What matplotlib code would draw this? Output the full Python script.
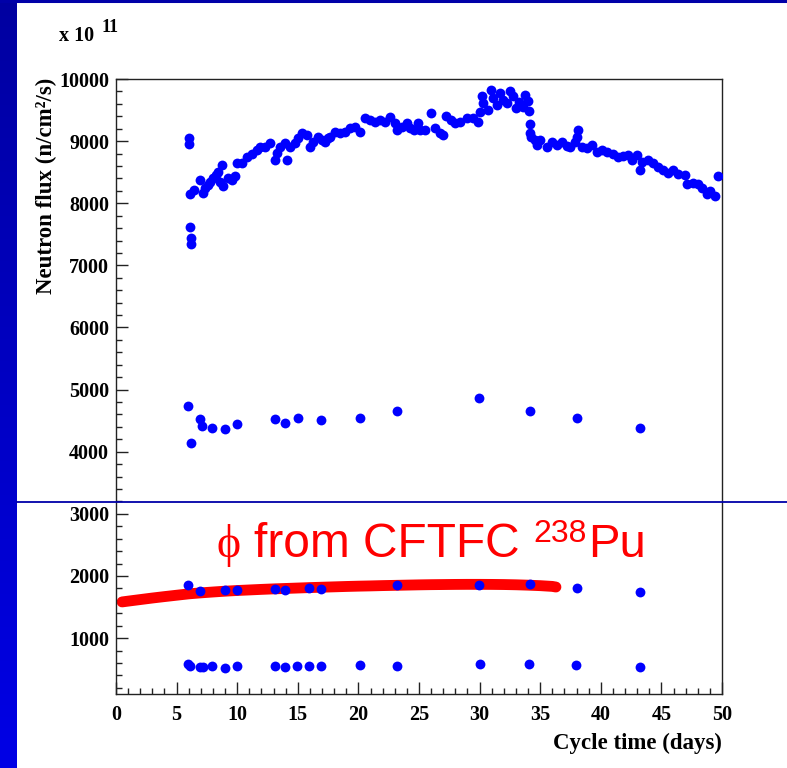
import numpy as np
import matplotlib
matplotlib.use("Agg")
import matplotlib.pyplot as plt
from matplotlib.ticker import MultipleLocator

# ---- data (flux in units of 1e11 n/cm^2/s, time in days) ----
main_days = [6.02, 6.05, 6.11, 6.44, 6.93, 7.20, 7.34, 7.62, 7.76, 8.03, 8.25, 8.44,
             8.58, 8.72, 8.85, 9.27, 9.55, 9.82, 10.01, 10.37, 10.78, 11.20, 11.61,
             11.88, 12.29, 12.71, 13.12, 13.26, 13.53, 13.94, 14.08, 14.36, 14.77,
             15.04, 15.32, 15.73, 16.01, 16.28, 16.69, 16.97, 17.24, 17.52, 17.66,
             18.07, 18.48, 18.89, 19.31, 19.72, 20.13, 20.54, 20.96, 21.37, 21.78,
             22.19, 22.61, 23.02, 23.21, 23.57, 24.03, 24.26, 24.59, 24.94, 25.08,
             25.50, 25.99, 26.32, 26.73, 27.00, 27.23, 27.62, 27.97, 28.38, 28.94,
             29.48, 29.89, 30.03, 30.17, 30.31, 30.72, 30.92, 31.13, 31.46, 31.68,
             31.96, 32.24, 32.51, 32.78, 33.00, 33.28, 33.56, 33.75, 34.02, 34.08,
             34.16, 34.18, 34.21, 34.57, 34.76, 34.98, 35.53, 35.94, 36.36, 36.77,
             37.18, 37.46, 37.87, 38.01, 38.14, 38.42, 38.83, 39.24, 39.66, 40.07,
             40.49, 41.03, 41.44, 41.86, 42.27, 42.55, 43.01, 43.23, 43.37, 43.92,
             44.33, 44.74, 45.16, 45.57, 45.98, 46.39, 46.95, 47.08, 47.63, 48.04,
             48.32, 48.74, 49.01, 49.42, 49.70,
             6.12, 6.17, 6.21]
main_flux = [9050, 8950, 8150, 8220, 8370, 8160, 8240, 8300, 8350, 8400, 8460, 8510,
             8350, 8620, 8270, 8400, 8380, 8440, 8640, 8640, 8750, 8790, 8860,
             8910, 8910, 8970, 8700, 8810, 8910, 8970, 8700, 8910, 8970,
             9050, 9130, 9100, 8910, 8990, 9070, 9020, 8990, 9050, 9070,
             9150, 9130, 9150, 9210, 9230, 9150, 9370, 9340, 9310, 9340,
             9310, 9390, 9290, 9180, 9230, 9290, 9210, 9180, 9290, 9180,
             9180, 9460, 9210, 9130, 9100, 9400, 9340, 9290, 9310, 9370,
             9370, 9310, 9470, 9720, 9610, 9500, 9820, 9690, 9580, 9770,
             9660, 9610, 9800, 9720, 9540, 9630, 9550, 9740, 9650, 9490,
             9270, 9130, 9070, 9020, 8940, 9020, 8910, 8980, 8940, 8980,
             8920, 8910, 8990, 9070, 9180, 8910, 8890, 8940, 8830, 8860,
             8820, 8800, 8740, 8760, 8780, 8700, 8780, 8540, 8670, 8700,
             8640, 8590, 8540, 8490, 8540, 8470, 8460, 8310, 8320, 8310,
             8240, 8150, 8200, 8110, 8440,
             7620, 7440, 7350]

low_days = [5.98, 6.15, 6.90, 7.13, 7.94, 8.98, 9.96, 13.13, 13.94, 14.98, 16.93,
            20.13, 23.16, 29.97, 34.15, 38.00, 43.20]
low_flux = [4740, 4140, 4530, 4410, 4380, 4370, 4450, 4530, 4460, 4540, 4510,
            4550, 4650, 4860, 4650, 4550, 4380]

mid_days = [5.98, 6.90, 8.98, 9.96, 13.13, 13.94, 15.96, 16.93, 23.16, 29.97,
            34.15, 38.00, 43.20]
mid_flux = [1850, 1760, 1780, 1770, 1790, 1780, 1810, 1790, 1850, 1860,
            1870, 1800, 1750]

base_days = [5.92, 6.10, 6.93, 7.17, 7.94, 9.02, 10.00, 13.13, 13.94, 14.94, 15.92,
             16.93, 20.13, 23.16, 30.00, 34.07, 37.97, 43.20]
base_flux = [590, 550, 540, 530, 545, 525, 550, 545, 540, 555, 545,
             550, 570, 550, 575, 575, 560, 535]

cftfc_days = [0.5, 1, 2, 3, 4, 5, 6, 7, 8, 9, 10, 11, 12, 13, 14, 15, 16, 17, 18,
              19, 20, 21, 22, 23, 24, 25, 26, 27, 28, 29, 30, 31, 32, 33, 34, 35,
              36, 36.3]
cftfc_flux = [1582, 1595, 1620, 1645, 1668, 1690, 1712, 1728, 1742, 1755, 1766,
              1775, 1784, 1792, 1799, 1806, 1813, 1819, 1825, 1831, 1836, 1840,
              1845, 1849, 1853, 1857, 1860, 1862, 1864, 1865, 1865, 1864, 1862,
              1858, 1852, 1844, 1832, 1822]

x_ticks = [0, 5, 10, 15, 20, 25, 30, 35, 40, 45, 50]
y_ticks = [1000, 2000, 3000, 4000, 5000, 6000, 7000, 8000, 9000, 10000]

W, H = 787, 768
def fx(px):
    return px / W
def fy(py):
    return 1 - py / H

fig = plt.figure(figsize=(W / 100, H / 100), dpi=100)
fig.patch.set_facecolor("white")

# slide decoration: left gradient bar and top rule
bar = fig.add_axes([0, 0, fx(17), 1])
grad = np.linspace(0, 1, 256).reshape(-1, 1)
bar.imshow(np.dstack([np.zeros_like(grad), np.zeros_like(grad), 0.63 + 0.27 * grad]),
           aspect="auto", extent=[0, 1, 0, 1], origin="upper")
bar.axis("off")
fig.add_artist(plt.Line2D([0, 1], [fy(1), fy(1)], color="#0000a8", lw=2.2,
                          transform=fig.transFigure))

ax = fig.add_axes([fx(116), fy(694), fx(722) - fx(116), fy(79) - fy(694)])
ax.set_xlim(0, 50)
ax.set_ylim(100, 10000)

ax.plot(cftfc_days, cftfc_flux, color="#ff0000", lw=7.8, solid_capstyle="round",
        zorder=2)
ms = 50
ax.scatter(main_days, main_flux, s=ms, color="#0000ff", lw=0, zorder=3)
ax.scatter(low_days, low_flux, s=ms, color="#0000ff", lw=0, zorder=3)
ax.scatter(mid_days, mid_flux, s=ms, color="#0000ff", lw=0, zorder=3)
ax.scatter(base_days, base_flux, s=ms, color="#0000ff", lw=0, zorder=3)

ax.set_xticks(x_ticks)
ax.set_yticks(y_ticks)
ax.xaxis.set_minor_locator(MultipleLocator(1))
ax.yaxis.set_minor_locator(MultipleLocator(200))
ax.tick_params(which="both", direction="in", top=False, right=False, width=1,
               color="#222222")
ax.tick_params(which="major", length=8.5)
ax.tick_params(which="minor", length=4.3)
ax.tick_params(axis="y", which="major", pad=5)
ax.tick_params(axis="x", which="major", pad=8)
serif = ["Liberation Serif", "DejaVu Serif"]
for lab in ax.get_xticklabels() + ax.get_yticklabels():
    lab.set_fontfamily(serif)
    lab.set_fontweight("bold")
    lab.set_fontsize(14.5)
for sp in ax.spines.values():
    sp.set_linewidth(1.0)
    sp.set_color("#222222")

# axis titles and exponent
fig.text(fx(722), fy(749), "Cycle time (days)", ha="right", va="baseline",
         family=serif, weight="bold", fontsize=16.5)
fig.text(fx(46), fy(78), "Neutron flux (n/cm\u00b2/s)", rotation=90, ha="center",
         va="top", family=serif, weight="bold", fontsize=16.5)
fig.text(fx(59), fy(41), "x 10", ha="left", va="baseline", family=serif,
         weight="bold", fontsize=14.5)
fig.text(fx(102), fy(32), "11", ha="left", va="baseline", family=serif,
         weight="bold", fontsize=13)

# separator between the two panels
fig.add_artist(plt.Line2D([fx(17), 1], [fy(501.5), fy(501.5)], color="#0000a8",
                          lw=1.3, transform=fig.transFigure, zorder=10))

# annotation
red = "#ff0000"
fig.text(fx(217), fy(557), "\u03d5", ha="left", va="baseline",
         family=["Liberation Serif", "DejaVu Serif"], fontsize=33, color=red)
fig.text(fx(254), fy(557), "from CFTFC", ha="left", va="baseline",
         family=["Liberation Sans", "DejaVu Sans"], fontsize=34.5, color=red)
fig.text(fx(533), fy(542), "238", ha="left", va="baseline",
         family=["Liberation Sans", "DejaVu Sans"], fontsize=23, color=red)
fig.text(fx(588), fy(557), "Pu", ha="left", va="baseline",
         family=["Liberation Sans", "DejaVu Sans"], fontsize=34, color=red)

fig.savefig("out.png", dpi=100)
